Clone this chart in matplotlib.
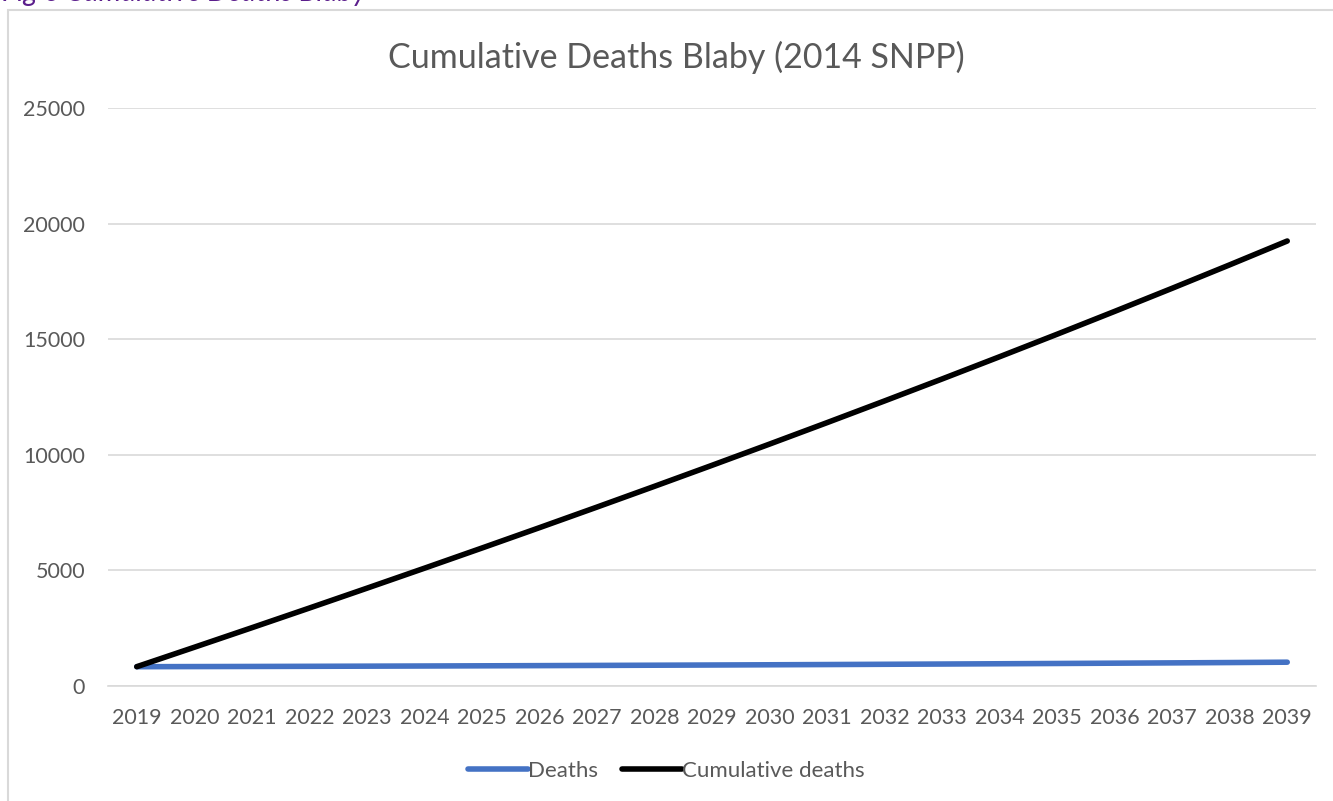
import matplotlib
matplotlib.use('Agg')
import matplotlib.pyplot as plt
from matplotlib.patches import Rectangle

plt.rcParams['font.family'] = ['Lato', 'DejaVu Sans']

# data
years = [str(y) for y in range(2019, 2040)]
deaths = [835, 840, 845, 851, 858, 865, 873, 881, 890, 899, 908,
          918, 928, 939, 950, 962, 974, 987, 1000, 1014, 1030]
cumulative_deaths = [835, 1675, 2520, 3371, 4229, 5094, 5967, 6848, 7738, 8637, 9545,
                     10463, 11391, 12330, 13280, 14242, 15216, 16203, 17203, 18217, 19247]
y_ticks = [0, 5000, 10000, 15000, 20000, 25000]

W, H = 1333, 801
fig = plt.figure(figsize=(W / 100, H / 100), dpi=100)

# chart frame
fig.patches.append(Rectangle((8 / W, -0.05), 1.1, 1 - 10 / H + 0.05,
                             transform=fig.transFigure, fill=False,
                             edgecolor='#D9D9D9', linewidth=1.5))

# caption above the chart (cut off at the top in the source)
fig.text(2 / W, 1 - 1 / H, 'Fig 6 Cumulative Deaths Blaby', color='#5B1E8C',
         fontsize=20.5, style='italic', va='baseline', ha='left')

ax = fig.add_axes([108 / W, 1 - 686 / H, (1316 - 108) / W, (686 - 108) / H])
x = list(range(len(years)))
ax.plot(x, deaths, color='#4472C4', linewidth=4, solid_capstyle='round', label='Deaths', zorder=3)
ax.plot(x, cumulative_deaths, color='black', linewidth=4, solid_capstyle='round',
        label='Cumulative deaths', zorder=3)

ax.set_xlim(-0.5, len(years) - 0.5)
ax.set_ylim(0, 25000)
ax.set_yticks(y_ticks)
ax.set_xticks(x)
ax.set_xticklabels(years)
ax.grid(axis='y', color='#D9D9D9', linewidth=1.2)
ax.set_axisbelow(True)
for s in ['top', 'right', 'left']:
    ax.spines[s].set_visible(False)
ax.spines['bottom'].set_color('#D9D9D9')
ax.spines['bottom'].set_linewidth(1.2)
ax.tick_params(axis='both', length=0, labelsize=15.5, labelcolor='#595959')
ax.tick_params(axis='x', pad=16)
ax.tick_params(axis='y', pad=16.5)

fig.text(676 / W, 1 - 57 / H, 'Cumulative Deaths Blaby (2014 SNPP)',
         ha='center', va='center', fontsize=24.5, color='#595959')

fig.legend(loc='center', bbox_to_anchor=(0.5, 1 - 771 / H), ncol=2, frameon=False,
           fontsize=16, labelcolor='#595959', handlelength=2.7, handletextpad=0.0,
           columnspacing=1.1)

fig.savefig('out.png', dpi=100)
